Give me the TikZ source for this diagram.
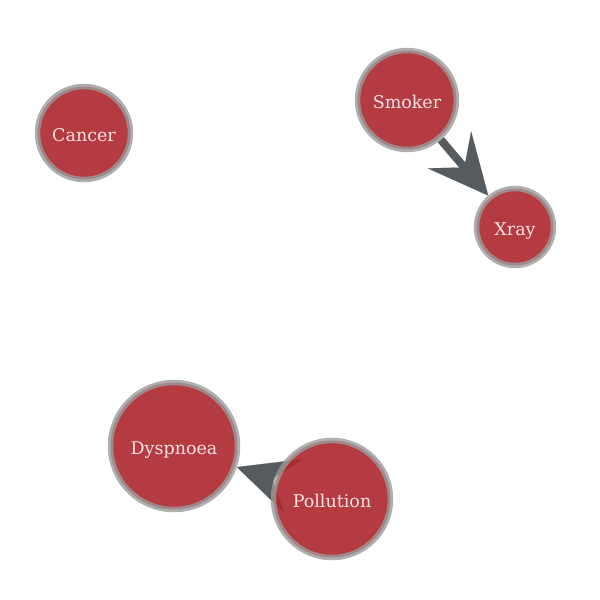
\documentclass[tikz,border=0pt]{standalone}
\usepackage{fontspec}
\setmainfont{DejaVu Serif}
\usetikzlibrary{arrows.meta,backgrounds}
\begin{document}
\begin{tikzpicture}[x=1pt,y=-1pt]
        %colores
        \definecolor{rojo}{RGB}{173,38,45}
        \definecolor{borde}{RGB}{155,155,155}
        \definecolor{flecha}{RGB}{85,91,94}
        \definecolor{letra}{RGB}{248,226,226}
        \tikzset{nodo/.style={circle,inner sep=0pt,fill=rojo,fill opacity=0.9,
            draw=borde,draw opacity=0.8,line width=5.5pt,text=letra,text opacity=1,
            text height=17pt,text depth=0pt,
            font=\fontsize{17.5}{20}\selectfont},
          flechita/.style={draw=flecha,line width=8pt,
            -{Stealth[length=60pt,width=57pt,inset=23pt,line width=0.1pt]}}}

        \useasboundingbox (0,0) rectangle (600,600);

        % nodos
        \node[nodo,minimum size=93pt] (cancer) at (84,133) {Cancer};
        \node[nodo,minimum size=99pt] (smoker) at (407,100) {Smoker};
        \node[nodo,minimum size=77pt] (xray) at (515,227) {Xray};
        \node[nodo,minimum size=127pt] (dyspnoea) at (174,446) {Dyspnoea};
        \node[nodo,minimum size=117pt] (pollution) at (332,499) {Pollution};

        % aristas, debajo de los nodos
        \begin{scope}[on background layer]
            \draw[flechita] (smoker) -- (xray);
            \draw[flechita] (pollution) -- (dyspnoea);
        \end{scope}
    \end{tikzpicture}
\end{document}
